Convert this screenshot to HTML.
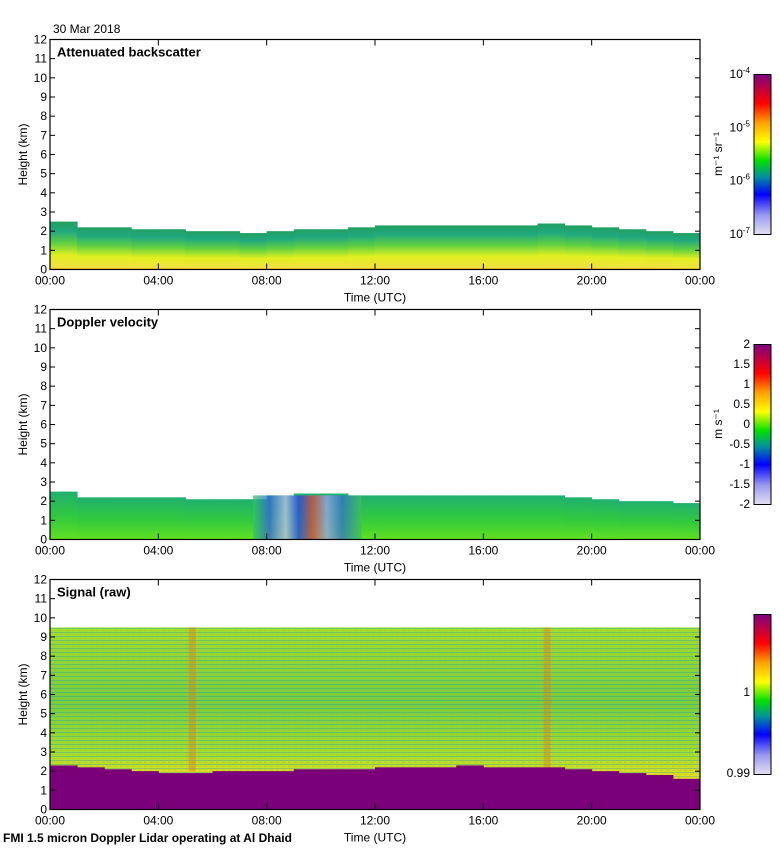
<!DOCTYPE html>
<html><head><meta charset="utf-8"><style>
body{margin:0;background:#fff}
svg{display:block;font-family:"Liberation Sans",sans-serif}
</style></head><body>
<svg id="c" width="780" height="850" viewBox="0 0 780 850" xmlns="http://www.w3.org/2000/svg">
<defs>
<linearGradient id="cmap" x1="0" y1="1" x2="0" y2="0">
<stop offset="0" stop-color="#e4e0f0"/><stop offset="0.12" stop-color="#9a9af0"/><stop offset="0.25" stop-color="#0000ff"/>
<stop offset="0.36" stop-color="#0090a0"/><stop offset="0.46" stop-color="#00e000"/><stop offset="0.58" stop-color="#ffff00"/>
<stop offset="0.7" stop-color="#ffa000"/><stop offset="0.82" stop-color="#ff0000"/><stop offset="1" stop-color="#800080"/>
</linearGradient>
<linearGradient id="bsc" x1="0" y1="1" x2="0" y2="0">
<stop offset="0" stop-color="#f0a000"/><stop offset="0.04" stop-color="#f0e040"/><stop offset="0.3" stop-color="#e0f020"/>
<stop offset="0.55" stop-color="#60d040"/><stop offset="0.8" stop-color="#20a880"/><stop offset="1" stop-color="#20a060"/>
</linearGradient>
<linearGradient id="vel" x1="0" y1="1" x2="0" y2="0">
<stop offset="0" stop-color="#60e020"/><stop offset="0.5" stop-color="#30c840"/><stop offset="1" stop-color="#20b070"/>
</linearGradient>
<linearGradient id="mix" x1="0" y1="0" x2="1" y2="0">
<stop offset="0" stop-color="#30c860"/><stop offset="0.15" stop-color="#3060e0"/><stop offset="0.3" stop-color="#c0c0f0"/><stop offset="0.42" stop-color="#2040f0"/>
<stop offset="0.55" stop-color="#e04040"/><stop offset="0.68" stop-color="#a0a0f0"/><stop offset="0.82" stop-color="#3070d0"/><stop offset="1" stop-color="#40c060"/>
</linearGradient>
<linearGradient id="sig" x1="0" y1="1" x2="0" y2="0">
<stop offset="0" stop-color="#e01010"/><stop offset="0.08" stop-color="#ff9000"/><stop offset="0.16" stop-color="#e8e020"/>
<stop offset="0.3" stop-color="#a0e030"/><stop offset="0.6" stop-color="#70d040"/><stop offset="1" stop-color="#a0e030"/>
</linearGradient>
<pattern id="stripes" width="6" height="4" patternUnits="userSpaceOnUse">
<rect width="6" height="1" fill="#2080d0" opacity="0.3"/><rect y="2" width="3" height="1" fill="#f0a000" opacity="0.3"/>
</pattern>
</defs>
<g id="g"></g>
</svg>
<script>
// data (hour bins of 1h, 0..24)
const hours=[0,1,2,3,4,5,6,7,8,9,10,11,12,13,14,15,16,17,18,19,20,21,22,23];
const bscTop=[2.5,2.2,2.2,2.1,2.1,2.0,2.0,1.9,2.0,2.1,2.1,2.2,2.3,2.3,2.3,2.3,2.3,2.3,2.4,2.3,2.2,2.1,2.0,1.9];
const velTop=[2.5,2.2,2.2,2.2,2.2,2.1,2.1,2.1,2.3,2.4,2.4,2.3,2.3,2.3,2.3,2.3,2.3,2.3,2.3,2.2,2.1,2.0,2.0,1.9];
const sigBase=[2.3,2.2,2.1,2.0,1.9,1.9,2.0,2.0,2.0,2.1,2.1,2.1,2.2,2.2,2.2,2.3,2.2,2.2,2.2,2.1,2.0,1.9,1.8,1.6];
const sigTop=9.5;
const mixStart=7.5, mixEnd=11.5;
const plumes=[5.2,18.3];
const xTicks=["00:00","04:00","08:00","12:00","16:00","20:00","00:00"];
const yTicks=[0,1,2,3,4,5,6,7,8,9,10,11,12];
const cb1=["10","10","10","10"], cb1e=["-7","-6","-5","-4"];
const cb2=["-2","-1.5","-1","-0.5","0","0.5","1","1.5","2"];

const NS="http://www.w3.org/2000/svg", G=document.getElementById('g');
function el(t,a,txt){const e=document.createElementNS(NS,t);for(const k in a)e.setAttribute(k,a[k]);if(txt!==undefined)e.textContent=txt;G.appendChild(e);return e;}
const X0=50,X1=700;
const xs=h=>X0+(X1-X0)*h/24;
const panels=[{top:39.5,title:"Attenuated backscatter"},{top:309.5,title:"Doppler velocity"},{top:579.5,title:"Signal (raw)"}];
const PH=230;
function ys(p,v){return p.top+PH-PH*v/12;}

let p=panels[0];
hours.forEach((h,i)=>{const r=el('rect',{x:xs(h),y:ys(p,bscTop[i]),width:xs(1)-X0+0.5,height:ys(p,0)-ys(p,bscTop[i]),fill:'url(#bsc)'});
});
p=panels[1];
hours.forEach((h,i)=>{const r=el('rect',{x:xs(h),y:ys(p,velTop[i]),width:xs(1)-X0+0.5,height:ys(p,0)-ys(p,velTop[i]),fill:'url(#vel)'});
});
{const r=el('rect',{x:xs(mixStart),y:ys(p,2.3),width:xs(mixEnd)-xs(mixStart),height:ys(p,0)-ys(p,2.3),fill:'url(#mix)',opacity:0.75});
}
p=panels[2];
{const r=el('rect',{x:X0,y:ys(p,sigTop),width:X1-X0,height:ys(p,0)-ys(p,sigTop),fill:'url(#sig)'});

const s=el('rect',{x:X0,y:ys(p,sigTop),width:X1-X0,height:ys(p,0)-ys(p,sigTop),fill:'url(#stripes)'});
}
plumes.forEach(h=>{const r=el('rect',{x:xs(h)-2,y:ys(p,sigTop),width:7,height:ys(p,2)-ys(p,sigTop),fill:'#f07020',opacity:0.4});
});
hours.forEach((h,i)=>{const r=el('rect',{x:xs(h),y:ys(p,sigBase[i]),width:xs(1)-X0+0.5,height:ys(p,0)-ys(p,sigBase[i]),fill:'#7a007a'});
});

panels.forEach((p,k)=>{
 const f=el('rect',{x:X0,y:p.top,width:X1-X0,height:PH,fill:'none',stroke:'#000','stroke-width':1.2});
 
 yTicks.forEach(v=>{const y=ys(p,v);
  el('line',{x1:X0,x2:X0+5,y1:y,y2:y,stroke:'#000'});el('line',{x1:X1-5,x2:X1,y1:y,y2:y,stroke:'#000'});
  const t=el('text',{x:X0-3,y:y+4,'text-anchor':'end','font-size':12},v);
  });
 xTicks.forEach((lab,i)=>{const x=xs(i*4);
  el('line',{x1:x,x2:x,y1:p.top,y2:p.top+6,stroke:'#000'});el('line',{x1:x,x2:x,y1:p.top+PH-6,y2:p.top+PH,stroke:'#000'});
  const t=el('text',{x:x,y:p.top+PH+15,'text-anchor':'middle','font-size':12},lab);
  });
 const tt=el('text',{x:X0+7,y:p.top+17,'font-size':13,'font-weight':'bold'},p.title);
 
 const xl=el('text',{x:375,y:p.top+PH+32,'text-anchor':'middle','font-size':12},'Time (UTC)');
 
 const yl=el('text',{x:0,y:0,'text-anchor':'middle','font-size':12,transform:`translate(27,${p.top+PH/2}) rotate(-90)`},'Height (km)');
 
 const cb=el('rect',{x:754,y:p.top+35,width:17,height:160,fill:'url(#cmap)',stroke:'#000'});
 
});
cb1.forEach((b,i)=>{const y=234-i*53.3+4;const t=el('text',{x:750,y:y,'text-anchor':'end','font-size':12},b);
 const s=document.createElementNS(NS,'tspan');s.setAttribute('dy','-5');s.setAttribute('font-size','8');s.textContent=cb1e[i];t.appendChild(s);
 });
cb2.forEach((b,i)=>{const t=el('text',{x:750,y:504-i*20+4,'text-anchor':'end','font-size':12},b);
 });
[['1',696],['0.99',777]].forEach(([b,y])=>{const t=el('text',{x:750,y:y,'text-anchor':'end','font-size':12},b);
 });
[['m\u207B\u00B9 sr\u207B\u00B9',154],['m s\u207B\u00B9',424]].forEach(([b,y])=>{const t=el('text',{x:0,y:0,'text-anchor':'middle','font-size':12,transform:`translate(722,${y}) rotate(-90)`},b);
 });
const d=el('text',{x:53,y:33,'font-size':12},'30 Mar 2018');
const ft=el('text',{x:3,y:842,'font-size':12,'font-weight':'bold'},'FMI 1.5 micron Doppler Lidar operating at Al Dhaid');

</script>
</body></html>
